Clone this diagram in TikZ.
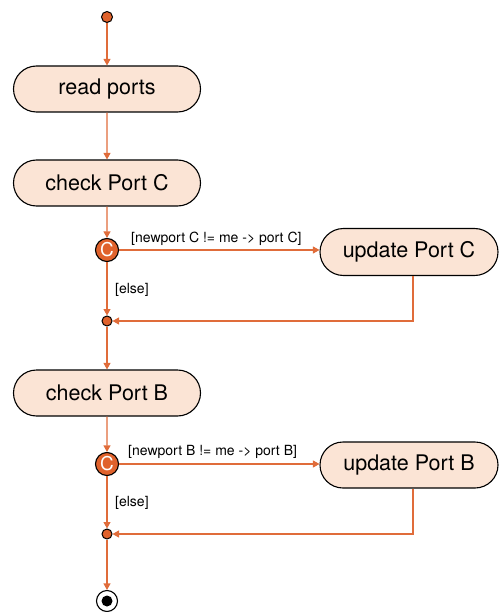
\documentclass[tikz,border=0pt]{standalone}
\usepackage{fontspec}
\setmainfont{TeX Gyre Heros}
\usetikzlibrary{arrows.meta,shapes.misc,positioning}
\definecolor{flowline}{HTML}{E06C3A}
\definecolor{actfill}{HTML}{FBE4D5}
\definecolor{choicefill}{HTML}{E0622C}

\begin{document}
\begin{tikzpicture}
			[x=1pt, y=-1pt,
			 action/.style={rounded rectangle, draw, line width=1.1pt, fill=actfill, minimum width=187pt, minimum height=46pt, inner sep=0pt, font=\fontsize{21.5}{23}\selectfont},
			 choice/.style={circle, draw, line width=1.1pt, fill=choicefill, text=white, minimum size=23pt, inner sep=0pt, font=\fontsize{19}{20}\selectfont},
			 junction/.style={circle, draw, line width=1pt, fill=choicefill, minimum size=10pt, inner sep=0pt},
			 flow/.style={draw=flowline, line width=1.1pt, -{Triangle[width=7pt,length=6.5pt]}},
			 guard/.style={anchor=west, inner sep=0pt, font=\fontsize{14}{15}\selectfont}]
			\useasboundingbox (0,0) rectangle (499,612);
          	\node[junction, minimum size=11pt] (start) at (107,17) {};
          	\node[action] (read) at (107,89) {read ports};
          	\node[action] (checkC) at (107,183) {check Port C};
          	\node[choice] (choiceC) at (107,250) {C};
          	\node[action, minimum width=178pt, minimum height=47pt] (updC) at (409,252) {update Port C};
          	\node[junction] (joinC) at (107,321) {};
          	\node[action] (checkB) at (107,393) {check Port B};
          	\node[choice] (choiceB) at (107,464) {C};
          	\node[action, minimum width=178pt, minimum height=46pt] (updB) at (409,465) {update Port B};
          	\node[junction] (joinB) at (107,534) {};
          	\node[circle, draw, line width=1.1pt, fill=white, minimum size=21pt, inner sep=0pt] (final) at (107,601) {};
          	\fill (final) circle (5.5pt);
          	% guards
          	\node[guard] (gC) at (131,239) {[newport C != me -> port C]};
          	\node[guard] (eC) at (115,290) {[else]};
          	\node[guard] (gB) at (128,452) {[newport B != me -> port B]};
          	\node[guard] (eB) at (115,503) {[else]};
          	% flow
         	\draw[flow] (start) -- (read);
         	\draw[flow] (read) -- (checkC);
         	\draw[flow] (checkC) -- (choiceC);
         	\draw[flow] (choiceC) -- (updC.west |- choiceC);
         	\draw[flow] (choiceC) -- (joinC);
         	\draw[flow] ([xshift=4pt]updC.south) |- (joinC);
         	\draw[flow] (joinC) -- (checkB);
         	\draw[flow] (checkB) -- (choiceB);
         	\draw[flow] (choiceB) -- (updB.west |- choiceB);
         	\draw[flow] (choiceB) -- (joinB);
         	\draw[flow] ([xshift=4pt]updB.south) |- (joinB);
         	\draw[flow] (joinB) -- (final);
\end{tikzpicture}
\end{document}
